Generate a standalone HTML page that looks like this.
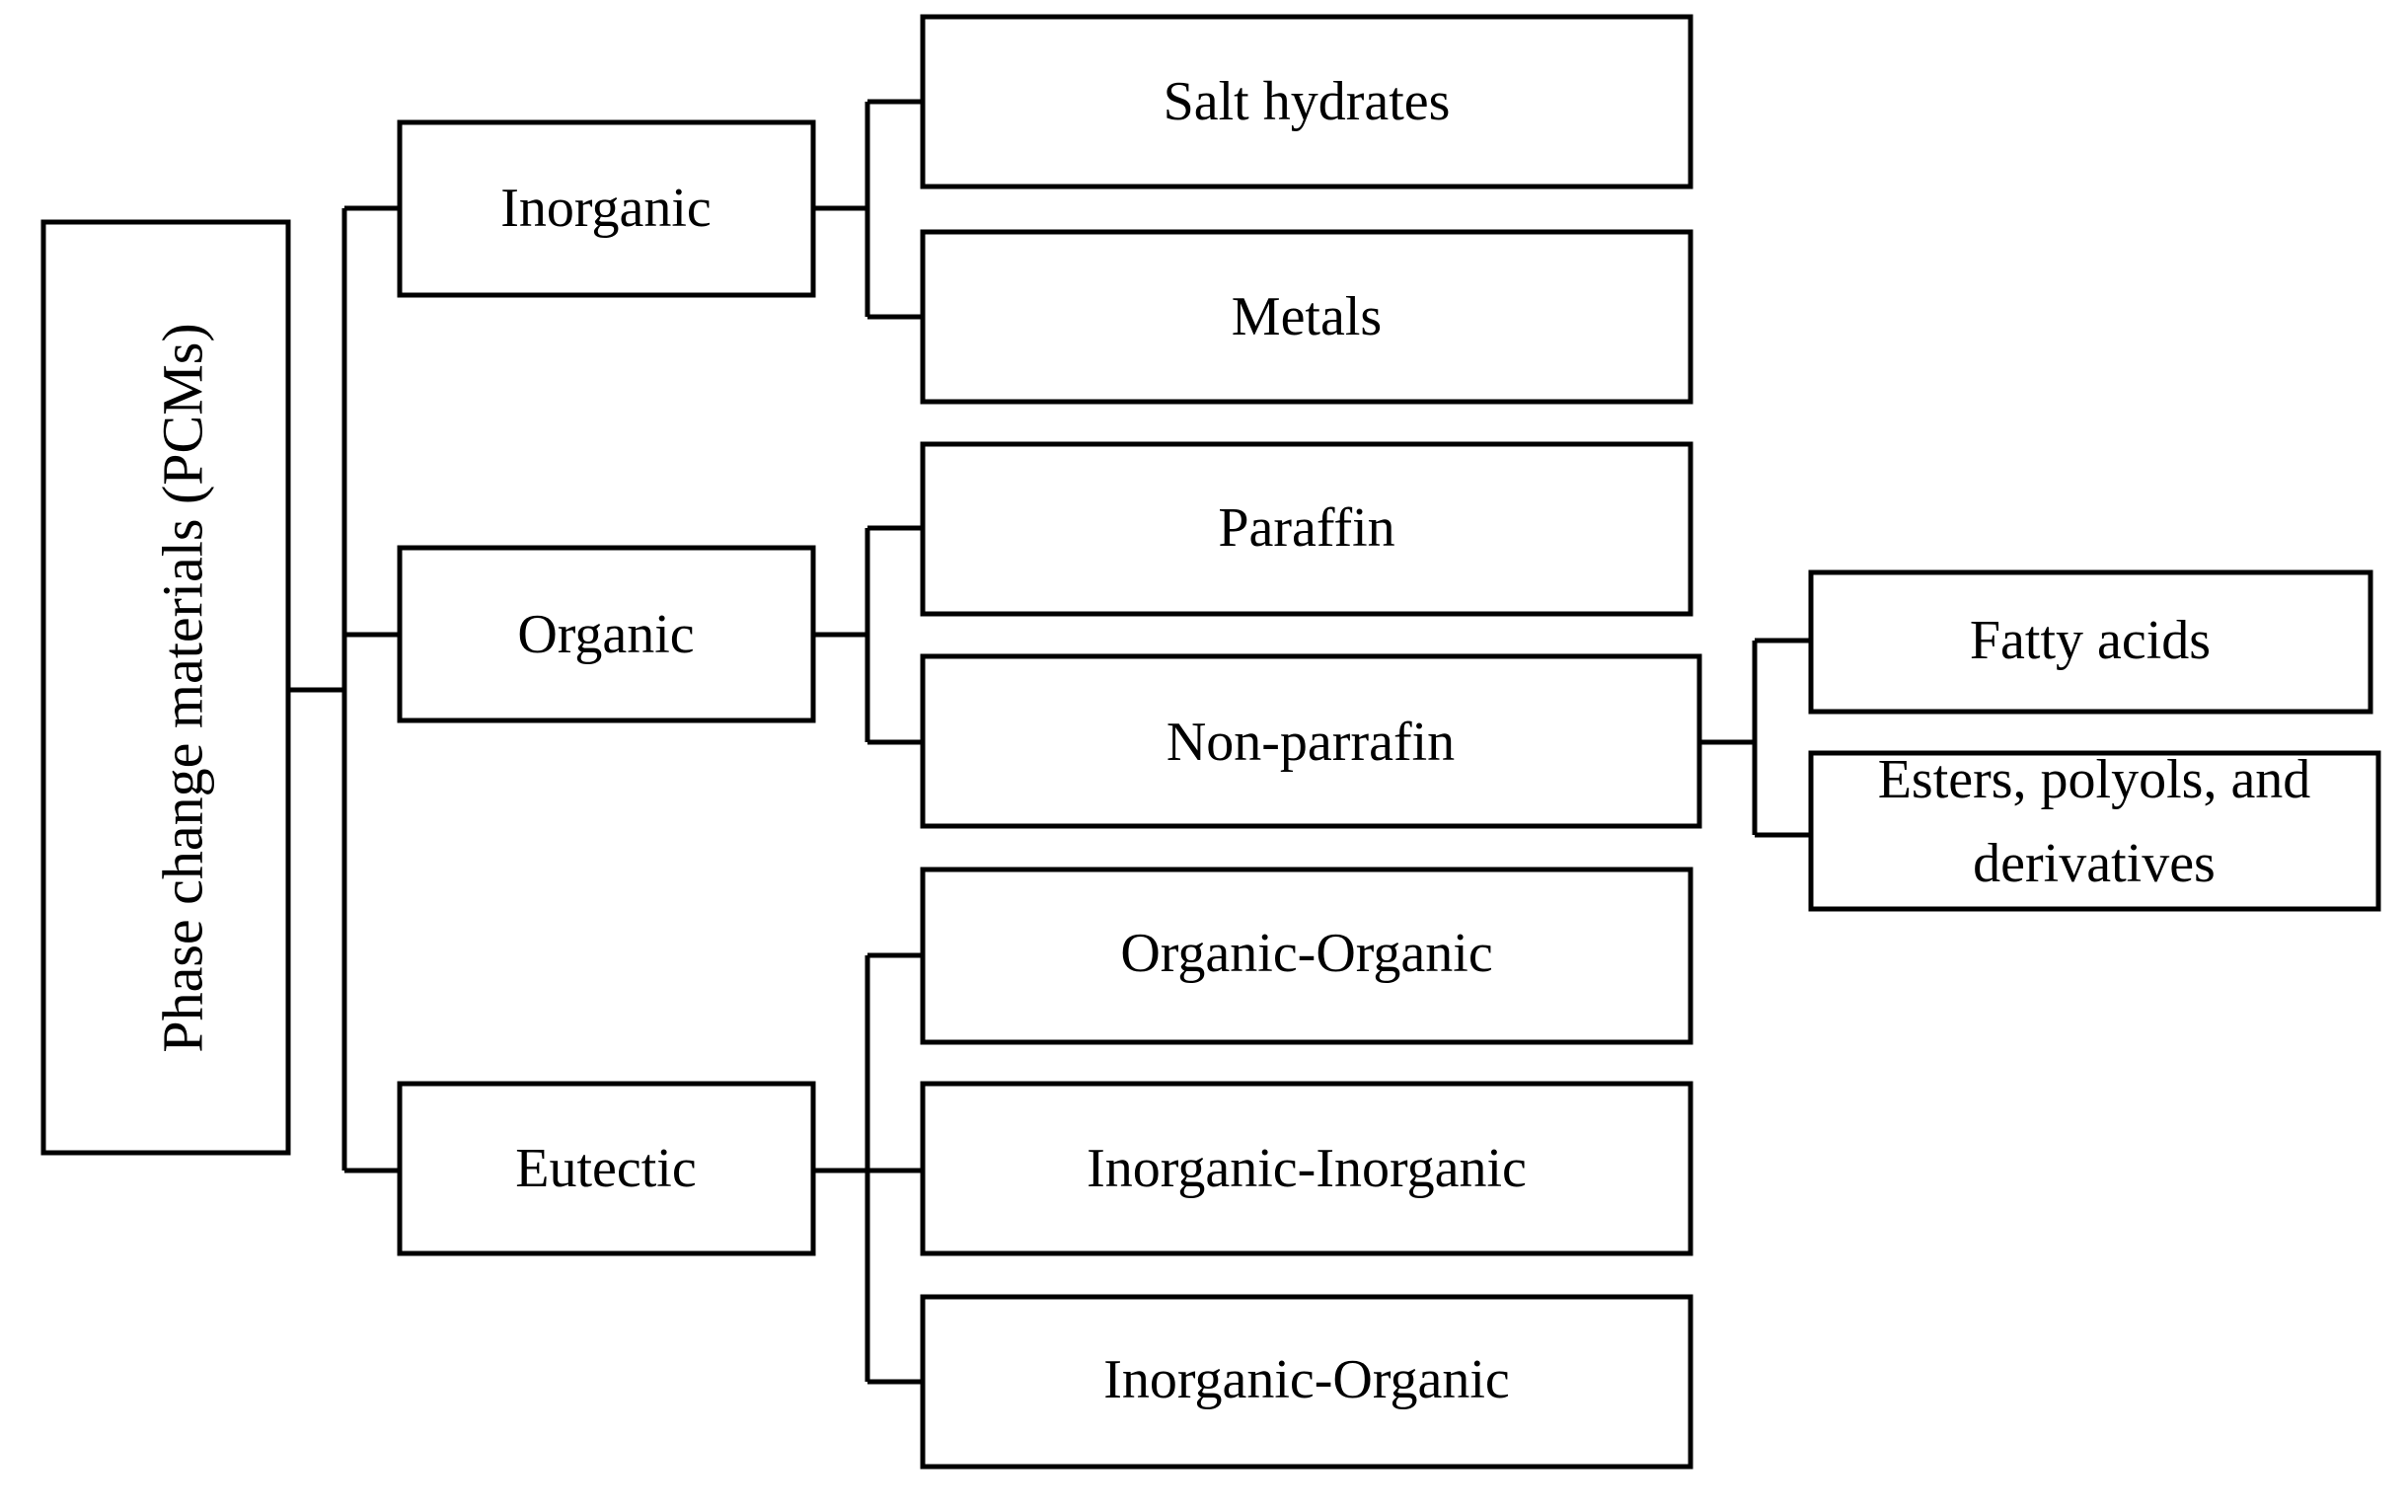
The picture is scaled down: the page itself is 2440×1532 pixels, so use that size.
<!DOCTYPE html>
<html><head><meta charset="utf-8"><style>html,body{margin:0;padding:0;background:#fff}svg{display:block}</style></head>
<body>
<svg width="2440" height="1532" viewBox="0 0 2440 1532" xmlns="http://www.w3.org/2000/svg">
<g fill="#fff" stroke="#000" stroke-width="5">
<rect x="44" y="225" width="248" height="943"/>
<rect x="405" y="124" width="419" height="175"/>
<rect x="405" y="555" width="419" height="175"/>
<rect x="405" y="1098" width="419" height="172"/>
<rect x="935" y="17" width="778" height="172"/>
<rect x="935" y="235" width="778" height="172"/>
<rect x="935" y="450" width="778" height="172"/>
<rect x="935" y="665" width="787" height="172"/>
<rect x="935" y="881" width="778" height="175"/>
<rect x="935" y="1098" width="778" height="172"/>
<rect x="935" y="1314" width="778" height="172"/>
<rect x="1835" y="580" width="567" height="141"/>
<rect x="1835" y="763" width="575" height="158"/>
</g>
<g fill="none" stroke="#000" stroke-width="5">
<path d="M292 699H349M349 211V1186M349 211H405M349 643H405M349 1186H405"/>
<path d="M824 211H879M879 103V321M879 103H935M879 321H935"/>
<path d="M824 643H879M879 535V752M879 535H935M879 752H935"/>
<path d="M824 1186H879M879 968V1400M879 968H935M879 1186H935M879 1400H935"/>
<path d="M1722 752H1778M1778 649V846M1778 649H1835M1778 846H1835"/>
</g>
<g font-family="'Liberation Serif', serif" font-size="56" text-anchor="middle" fill="#000">
<text transform="translate(185,697) rotate(-90)" font-size="58" dominant-baseline="central">Phase change materials (PCMs)</text>
<text x="614" y="211" dominant-baseline="central">Inorganic</text>
<text x="614" y="643" dominant-baseline="central">Organic</text>
<text x="614" y="1184" dominant-baseline="central">Eutectic</text>
<text x="1324" y="103" dominant-baseline="central">Salt hydrates</text>
<text x="1324" y="321" dominant-baseline="central">Metals</text>
<text x="1324" y="535" dominant-baseline="central">Paraffin</text>
<text x="1328" y="752" dominant-baseline="central">Non-parrafin</text>
<text x="1324" y="966" dominant-baseline="central">Organic-Organic</text>
<text x="1324" y="1184" dominant-baseline="central">Inorganic-Inorganic</text>
<text x="1324" y="1398" dominant-baseline="central">Inorganic-Organic</text>
<text x="2118" y="649" dominant-baseline="central">Fatty acids</text>
<text x="2122" y="808">Esters, polyols, and</text>
<text x="2122" y="893">derivatives</text>
</g>
</svg>
</body></html>
